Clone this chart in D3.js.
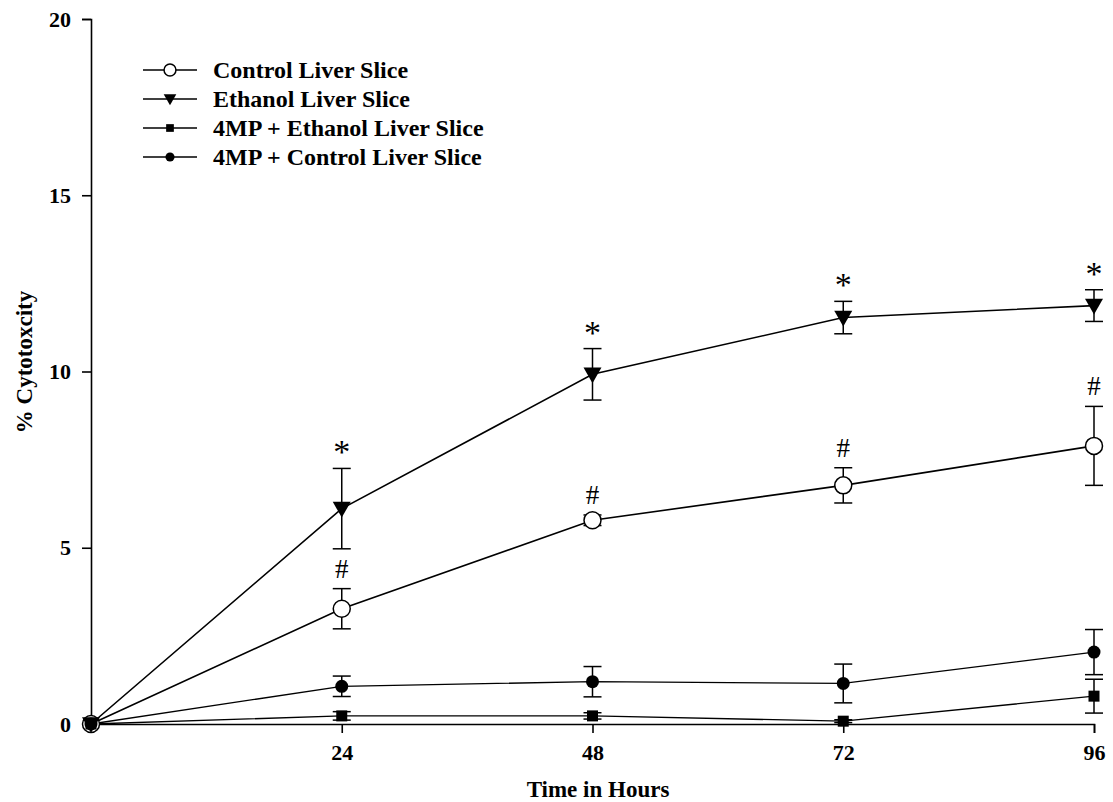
<!DOCTYPE html>
<html>
<head>
<meta charset="utf-8">
<style>
  body { margin: 0; background: #fff; }
  text { font-family: 'Liberation Serif', 'Times New Roman', serif; font-weight: bold; fill: #000; }
</style>
</head>
<body>
<script src="https://cdn.jsdelivr.net/npm/d3@7"></script>
<script>
// data
var hours = [0, 24, 48, 72, 96];
var control = [0, 3.27, 5.78, 6.77, 7.89];
var controlErr = [0, 0.57, 0.15, 0.5, 1.12];
var ethanol = [0, 6.11, 9.92, 11.53, 11.87];
var ethanolErr = [0, 1.14, 0.73, 0.46, 0.45];
var mpEthanol = [0, 0.23, 0.23, 0.08, 0.79];
var mpEthanolErr = [0, 0.12, 0.09, 0.04, 0.48];
var mpControl = [0, 1.07, 1.2, 1.15, 2.04];
var mpControlErr = [0, 0.29, 0.43, 0.55, 0.64];
var starHours = [24, 48, 72, 96];
var yTicks = [0, 5, 10, 15, 20];
var xTicks = [24, 48, 72, 96];

var W = 1113, H = 802;
var svg = d3.select("body").append("svg").attr("width", W).attr("height", H);

var x = d3.scaleLinear().domain([0, 96]).range([91, 1094]);
var y = d3.scaleLinear().domain([0, 20]).range([724, 19]);

// axes
var yAxis = svg.append("g").attr("transform", "translate(91,0)")
  .call(d3.axisLeft(y).tickValues(yTicks).tickSize(9).tickPadding(11).tickFormat(d3.format("d")));
var xAxis = svg.append("g").attr("transform", "translate(0,724)")
  .call(d3.axisBottom(x).tickValues(xTicks).tickSize(9).tickPadding(11));
[yAxis, xAxis].forEach(function (a) {
  a.select(".domain").attr("stroke", "#000").attr("stroke-width", 1.6);
  a.selectAll(".tick line").attr("stroke", "#000").attr("stroke-width", 1.6);
  a.selectAll("text").style("font-size", "22px").style("font-family", "'Liberation Serif', serif").style("font-weight", "bold").attr("fill", "#000");
});

svg.append("text").attr("x", 598).attr("y", 797).attr("text-anchor", "middle")
  .style("font-size", "23px").text("Time in Hours");
svg.append("text").attr("transform", "translate(32,362) rotate(-90)").attr("text-anchor", "middle")
  .style("font-size", "23px").text("% Cytotoxcity");

var series = [
  { name: "Control Liver Slice", vals: control, err: controlErr, sym: "openCircle", lw: 1.6 },
  { name: "Ethanol Liver Slice", vals: ethanol, err: ethanolErr, sym: "triangle", lw: 1.6 },
  { name: "4MP + Ethanol Liver Slice", vals: mpEthanol, err: mpEthanolErr, sym: "square", lw: 1.3 },
  { name: "4MP + Control Liver Slice", vals: mpControl, err: mpControlErr, sym: "dot", lw: 1.3 }
];

function drawSymbol(g, sym, cx, cy, small) {
  var k = small ? 0.7 : 1;
  if (sym === "openCircle") {
    g.append("circle").attr("cx", cx).attr("cy", cy).attr("r", 8.5 * k)
      .attr("fill", "#fff").attr("stroke", "#000").attr("stroke-width", 1.5);
  } else if (sym === "triangle") {
    var s = 9 * k;
    g.append("path").attr("d", "M" + (cx - s) + "," + (cy - s * 0.75) + "L" + (cx + s) + "," + (cy - s * 0.75) + "L" + cx + "," + (cy + s * 1.0) + "Z")
      .attr("fill", "#000");
  } else if (sym === "square") {
    var h = 5.5 * k;
    g.append("rect").attr("x", cx - h).attr("y", cy - h).attr("width", 2 * h).attr("height", 2 * h).attr("fill", "#000");
  } else {
    g.append("circle").attr("cx", cx).attr("cy", cy).attr("r", 6.5 * k).attr("fill", "#000");
  }
}

var line = d3.line().x(function (d) { return x(d[0]); }).y(function (d) { return y(d[1]); });

// lines and error bars
series.forEach(function (s) {
  var pts = hours.map(function (h, i) { return [h, s.vals[i]]; });
  svg.append("path").datum(pts).attr("d", line).attr("fill", "none")
    .attr("stroke", "#000").attr("stroke-width", s.lw);
  var eg = svg.append("g").attr("stroke", "#000").attr("stroke-width", 1.5);
  hours.forEach(function (h, i) {
    if (s.err[i] <= 0) return;
    var top = y(s.vals[i] + s.err[i]), bot = y(s.vals[i] - s.err[i]), cx = x(h);
    eg.append("line").attr("x1", cx).attr("x2", cx).attr("y1", top).attr("y2", bot);
    eg.append("line").attr("x1", cx - 9).attr("x2", cx + 9).attr("y1", top).attr("y2", top);
    eg.append("line").attr("x1", cx - 9).attr("x2", cx + 9).attr("y1", bot).attr("y2", bot);
  });
});

// markers, in series order (filled dot ends on top at zero)
series.forEach(function (s) {
  var g = svg.append("g");
  hours.forEach(function (h, i) { drawSymbol(g, s.sym, x(h), y(s.vals[i])); });
});

// significance marks
starHours.forEach(function (h) {
  var i = hours.indexOf(h);
  svg.append("text").attr("x", x(h)).attr("y", y(ethanol[i] + ethanolErr[i]) - 5)
    .attr("text-anchor", "middle").style("font-size", "34px").style("font-weight", "normal").text("*");
  svg.append("text").attr("x", x(h)).attr("y", y(control[i] + controlErr[i]) - 11)
    .attr("text-anchor", "middle").style("font-size", "27px").style("font-weight", "normal").text("#");
});

// legend
var legend = svg.append("g");
series.forEach(function (s, i) {
  var ly = 70 + i * 29;
  legend.append("line").attr("x1", 143).attr("x2", 197).attr("y1", ly).attr("y2", ly)
    .attr("stroke", "#000").attr("stroke-width", 1.4);
  drawSymbol(legend, s.sym, 170, ly, true);
  legend.append("text").attr("x", 213).attr("y", ly + 8).style("font-size", "24px").text(s.name);
});
</script>
</body>
</html>
